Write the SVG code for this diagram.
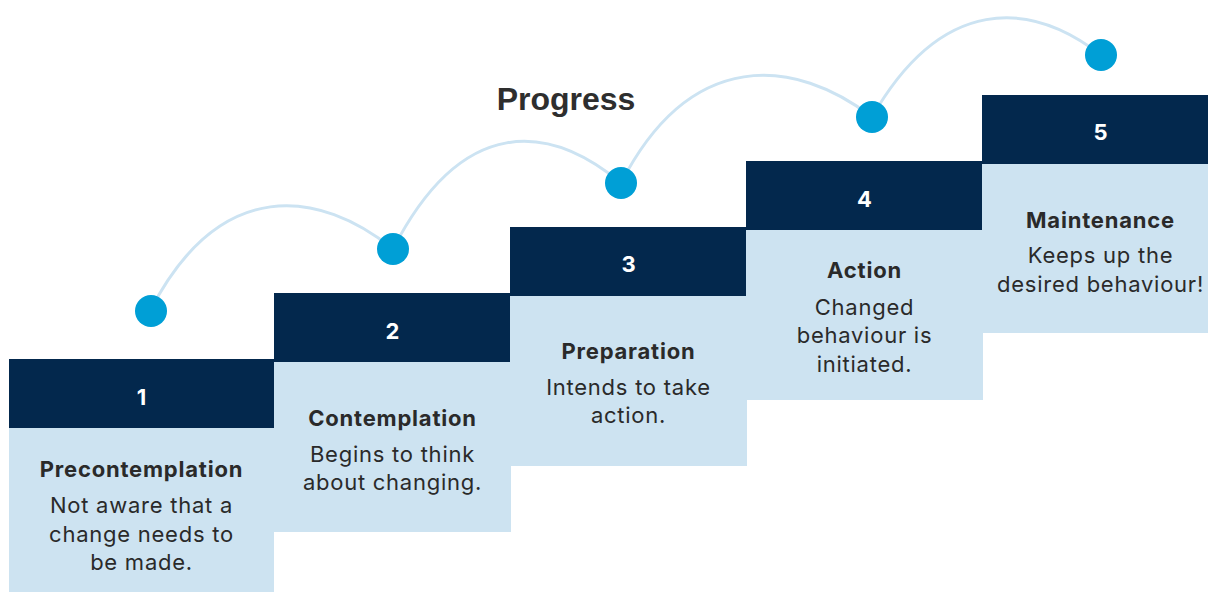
<svg xmlns="http://www.w3.org/2000/svg" width="1208" height="592" viewBox="0 0 1208 592">
<style>
.dark{fill:#03284D}
.light{fill:#CDE3F1}
.num{font-family:Inter,"Liberation Sans",sans-serif;font-weight:700;font-size:22px;fill:#FFFFFF;text-anchor:middle}
.title{font-family:Inter,"Liberation Sans",sans-serif;font-weight:700;font-size:22px;letter-spacing:0.8px;fill:#2A2A2A;text-anchor:middle}
.body{font-family:Inter,"Liberation Sans",sans-serif;font-weight:400;font-size:22px;letter-spacing:0.75px;fill:#2A2A2A;text-anchor:middle}
.arc{fill:none;stroke:#CCE3F2;stroke-width:3}
.dot{fill:#009FD6}
.head{font-family:"Liberation Sans",Arial,sans-serif;font-weight:700;font-size:32px;fill:#2E2E2E;text-anchor:middle}
</style>
<rect width="1208" height="592" fill="#FFFFFF"/>
<text class="head" x="566" y="110">Progress</text>
<g id="connectors">
<path class="arc" d="M150,311 C220,175 320,190 393,249"/>
<path class="arc" d="M393,249 C463,113 550,124 621,183"/>
<path class="arc" d="M621,183 C691,47 795,58 872,117"/>
<path class="arc" d="M872,117 C942,-5 1030,0 1101,55"/>
</g>
<g id="step1">
<rect class="light" x="9" y="428" width="265" height="170"/>
<rect class="dark" x="9" y="359" width="265" height="69"/>
<text class="num" x="141.5" y="405">1</text>
<text class="title" x="141.5" y="477">Precontemplation</text>
<text class="body" x="141.5" y="513">Not aware that a</text>
<text class="body" x="141.5" y="542">change needs to</text>
<text class="body" x="141.5" y="570">be made.</text>
<circle class="dot" cx="151" cy="311" r="16"/>
</g>
<g id="step2">
<rect class="light" x="274" y="362" width="237" height="170"/>
<rect class="dark" x="274" y="293" width="237" height="69"/>
<text class="num" x="392.5" y="339">2</text>
<text class="title" x="392.5" y="426">Contemplation</text>
<text class="body" x="392.5" y="462">Begins to think</text>
<text class="body" x="392.5" y="490">about changing.</text>
<circle class="dot" cx="393" cy="249" r="16"/>
</g>
<g id="step3">
<rect class="light" x="510" y="296" width="237" height="170"/>
<rect class="dark" x="510" y="227" width="237" height="69"/>
<text class="num" x="628.5" y="272">3</text>
<text class="title" x="628.5" y="359">Preparation</text>
<text class="body" x="628.5" y="395">Intends to take</text>
<text class="body" x="628.5" y="423">action.</text>
<circle class="dot" cx="621" cy="183" r="16"/>
</g>
<g id="step4">
<rect class="light" x="746" y="230" width="237" height="170"/>
<rect class="dark" x="746" y="161" width="237" height="69"/>
<text class="num" x="864.5" y="207">4</text>
<text class="title" x="864.5" y="278">Action</text>
<text class="body" x="864.5" y="315">Changed</text>
<text class="body" x="864.5" y="343">behaviour is</text>
<text class="body" x="864.5" y="372">initiated.</text>
<circle class="dot" cx="872" cy="117" r="16"/>
</g>
<g id="step5">
<rect class="light" x="982" y="164" width="237" height="169"/>
<rect class="dark" x="982" y="95" width="237" height="69"/>
<text class="num" x="1100.5" y="140">5</text>
<text class="title" x="1100.5" y="228">Maintenance</text>
<text class="body" x="1100.5" y="263">Keeps up the</text>
<text class="body" x="1100.5" y="292">desired behaviour!</text>
<circle class="dot" cx="1101" cy="55" r="16"/>
</g>
</svg>
